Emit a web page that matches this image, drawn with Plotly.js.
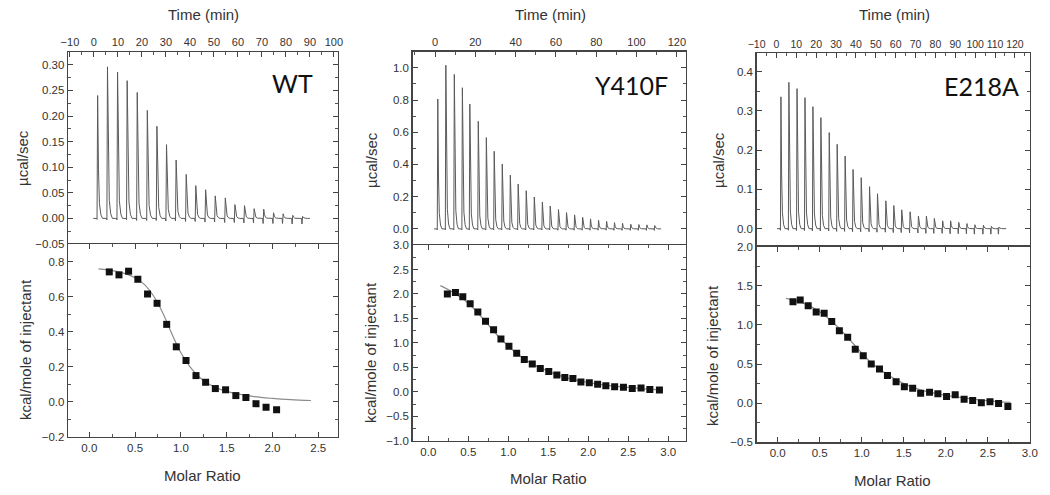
<!DOCTYPE html>
<html>
<head>
<meta charset="utf-8">
<script src="https://cdn.plot.ly/plotly-3.0.1.min.js"></script>
<style>html,body{margin:0;padding:0;background:#fff;}#chart{width:1050px;height:495px;}</style>
</head>
<body>
<div id="chart"></div>
<script>
// ---------------- DATA ----------------
// WT raw thermogram: injection times (min), peak heights (µcal/sec), baseline dips
const wtTime = [1.3,5.4,9.6,13.6,17.8,22.0,26.0,30.0,34.0,38.2,42.2,46.3,50.3,54.5,58.5,62.5,66.5,70.5,74.6,78.6,82.6,86.7];
const wtPeak = [0.240,0.296,0.286,0.269,0.246,0.211,0.180,0.144,0.114,0.086,0.064,0.056,0.044,0.040,0.027,0.025,0.019,0.018,0.011,0.009,0.006,0.004];
const wtDip  = [0.002,0.003,0.003,0.003,0.004,0.004,0.004,0.005,0.005,0.006,0.006,0.007,0.007,0.008,0.008,0.009,0.009,0.010,0.010,0.010,0.011,0.011];
const wtRunStart = -0.3, wtRunEnd = 90.0;
// WT integrated heats
const wtRatio = [0.218,0.324,0.429,0.530,0.636,0.740,0.845,0.950,1.056,1.165,1.270,1.376,1.488,1.600,1.710,1.820,1.930,2.045];
const wtHeat  = [0.741,0.724,0.745,0.699,0.615,0.562,0.442,0.314,0.236,0.150,0.112,0.076,0.069,0.036,0.025,-0.010,-0.030,-0.044];
const wtFitX  = [0.10,0.20,0.30,0.40,0.50,0.60,0.70,0.80,0.90,1.00,1.10,1.20,1.30,1.40,1.50,1.60,1.80,2.00,2.20,2.42];
const wtFitY  = [0.758,0.752,0.744,0.730,0.708,0.670,0.605,0.510,0.390,0.280,0.200,0.142,0.103,0.077,0.060,0.047,0.030,0.020,0.013,0.008];

// Y410F raw thermogram
const yTime = [1.1,5.1,9.3,13.3,17.0,21.2,25.2,29.1,33.1,37.1,41.0,45.0,49.0,53.0,56.9,61.0,65.0,69.0,73.0,76.9,80.9,84.9,88.8,92.8,96.9,100.9,104.9,108.8];
const yPeak = [0.806,1.016,0.959,0.876,0.775,0.668,0.567,0.482,0.402,0.334,0.278,0.237,0.198,0.167,0.142,0.120,0.101,0.087,0.072,0.062,0.054,0.047,0.039,0.035,0.029,0.027,0.025,0.021];
const yDip  = [0.006,0.006,0.006,0.006,0.006,0.006,0.006,0.006,0.006,0.007,0.007,0.007,0.007,0.007,0.007,0.008,0.008,0.008,0.008,0.008,0.008,0.008,0.009,0.009,0.009,0.009,0.009,0.009];
const yRunStart = -0.5, yRunEnd = 112.2;
// Y410F integrated heats
const yRatio = [0.238,0.339,0.431,0.523,0.619,0.715,0.816,0.908,1.008,1.105,1.200,1.300,1.400,1.506,1.607,1.707,1.808,1.908,2.013,2.117,2.220,2.330,2.440,2.550,2.660,2.770,2.890];
const yHeat  = [2.00,2.03,1.94,1.80,1.63,1.44,1.27,1.08,0.93,0.79,0.66,0.57,0.476,0.414,0.345,0.29,0.27,0.20,0.186,0.152,0.124,0.103,0.09,0.069,0.076,0.048,0.034];
const yFitX  = [0.15,0.30,0.50,0.70,0.90,1.10,1.30,1.50,1.70,1.90,2.10,2.30,2.50,2.70,2.93];
const yFitY  = [2.17,2.04,1.81,1.46,1.09,0.79,0.57,0.42,0.30,0.22,0.16,0.12,0.09,0.06,0.04];

// E218A raw thermogram
const eTime = [2.0,6.0,10.1,14.1,18.1,22.1,26.3,30.3,34.3,38.3,42.4,46.6,50.6,54.8,58.8,62.8,67.0,71.2,75.2,79.2,83.4,87.4,91.5,95.6,99.6,103.9,107.9,111.7];
const ePeak = [0.336,0.373,0.357,0.334,0.311,0.283,0.245,0.215,0.185,0.151,0.130,0.107,0.089,0.071,0.059,0.048,0.043,0.032,0.032,0.026,0.020,0.020,0.016,0.013,0.010,0.009,0.006,0.004];
const eDip  = [0.004,0.004,0.005,0.005,0.006,0.006,0.006,0.007,0.007,0.008,0.008,0.008,0.009,0.009,0.010,0.010,0.011,0.011,0.012,0.012,0.012,0.013,0.013,0.013,0.014,0.014,0.014,0.014];
const eRunStart = 0.3, eRunEnd = 115.6;
// E218A integrated heats
const eRatio = [0.182,0.268,0.363,0.458,0.553,0.643,0.734,0.833,0.923,1.018,1.113,1.211,1.306,1.409,1.507,1.606,1.701,1.807,1.906,2.009,2.112,2.218,2.320,2.423,2.526,2.628,2.739];
const eHeat  = [1.295,1.320,1.244,1.167,1.150,1.043,0.927,0.842,0.688,0.607,0.500,0.436,0.355,0.274,0.209,0.192,0.128,0.141,0.120,0.085,0.107,0.051,0.034,0.004,0.017,-0.004,-0.043];
const eFitX  = [0.10,0.30,0.50,0.70,0.90,1.10,1.30,1.50,1.70,1.90,2.10,2.30,2.50,2.77];
const eFitY  = [1.34,1.28,1.17,0.99,0.76,0.53,0.37,0.25,0.17,0.12,0.085,0.055,0.03,0.01];

const panelNames = ['WT','Y410F','E218A'];
const timeTitle = 'Time (min)';
const rawTitle = 'µcal/sec';
const heatTitle = 'kcal/mole of injectant';
const ratioTitle = 'Molar Ratio';

// ---------------- BUILD ----------------
const W = 1050, H = 495;
function thermo(times, peaks, dips, t0, t1){
  const x=[t0], y=[0];
  for (let i=0;i<times.length;i++){
    const t=times[i], h=peaks[i], d=dips[i];
    x.push(t-0.2, t, t+0.25, t+0.6, t+1.0, t+1.6, t+2.3);
    y.push(0, -d, h, 0.4*h, 0.12*h, 0.03*h, 0);
  }
  x.push(t1); y.push(0);
  return {x, y};
}
const rawColor = '#5a5a5a', fitColor = '#8c8c8c', markColor = '#111';
const datasets = [
  {raw: thermo(wtTime, wtPeak, wtDip, wtRunStart, wtRunEnd), rx: wtRatio, ry: wtHeat, fx: wtFitX, fy: wtFitY},
  {raw: thermo(yTime, yPeak, yDip, yRunStart, yRunEnd), rx: yRatio, ry: yHeat, fx: yFitX, fy: yFitY},
  {raw: thermo(eTime, ePeak, eDip, eRunStart, eRunEnd), rx: eRatio, ry: eHeat, fx: eFitX, fy: eFitY}
];
const traces = [];
datasets.forEach((d, i) => {
  const xt = 'x' + (2*i+1 === 1 ? '' : (2*i+1)), yt = 'y' + (2*i+1 === 1 ? '' : (2*i+1));
  const xb = 'x' + (2*i+2), yb = 'y' + (2*i+2);
  traces.push({x: d.raw.x, y: d.raw.y, xaxis: xt, yaxis: yt, type: 'scatter', mode: 'lines',
    line: {color: rawColor, width: 1}, showlegend: false, hoverinfo: 'skip'});
  traces.push({x: d.fx, y: d.fy, xaxis: xb, yaxis: yb, type: 'scatter', mode: 'lines',
    line: {color: fitColor, width: 1.2, shape: 'spline'}, showlegend: false});
  traces.push({x: d.rx, y: d.ry, xaxis: xb, yaxis: yb, type: 'scatter', mode: 'markers',
    marker: {symbol: 'square', size: 7, color: markColor}, showlegend: false});
});

// pixel geometry of the panels
const boxes = [
  {l: 68,    r: 337.5, t: 52,   m: 244,   b: 437},
  {l: 412.5, r: 685.5, t: 51.7, m: 245,   b: 440.7},
  {l: 756.5, r: 1030,  t: 53.3, m: 246.7, b: 442.3}
];
const axSpec = [
  {tx: [-10.8, 101.5], tdt: 10, tmin: 5, tfs: 11, ty: [-0.05, 0.325], tydt: 0.05, tymin: 0.025, tyfmt: '.2f',
   bx: [-0.2325, 2.71], bdt: 0.5, bmin: 0.25, by: [-0.2, 0.9], bydt: 0.2, bymin: 0.1},
  {tx: [-11.2, 124.3], tdt: 20, tmin: 10, tfs: 11, ty: [-0.1, 1.1], tydt: 0.2, tymin: 0.1, tyfmt: '.1f',
   bx: [-0.198, 3.216], bdt: 0.5, bmin: 0.25, by: [-1, 3.0001], bydt: 0.5, bymin: 0.25},
  {tx: [-10.05, 127.6], tdt: 10, tmin: 5, tfs: 10.5, ty: [-0.046, 0.447], tydt: 0.1, tymin: 0.05, tyfmt: '.1f',
   bx: [-0.252, 3.002], bdt: 0.5, bmin: 0.25, by: [-0.5, 2.0001], bydt: 0.5, bymin: 0.25}
];
function tickFont(sz){ return {family: 'Liberation Sans, Arial, sans-serif', size: sz || 11.5, color: '#333'}; }
function axis(extra, mdt){
  return Object.assign({
    showline: true, linecolor: '#444', linewidth: 1.3, mirror: 'ticks',
    ticks: 'inside', ticklen: 5, tickwidth: 1, tickcolor: '#444', tickangle: 0,
    showgrid: false, zeroline: false, tickfont: tickFont(), fixedrange: true,
    minor: {ticks: 'inside', ticklen: 3, tickwidth: 1, tickcolor: '#555', dtick: mdt, showgrid: false}
  }, extra);
}
const layout = {
  width: W, height: H, margin: {l: 0, r: 0, t: 0, b: 0},
  paper_bgcolor: '#fff', plot_bgcolor: '#fff', showlegend: false,
  annotations: []
};
boxes.forEach((b, i) => {
  const s = axSpec[i];
  const nT = 2*i+1, nB = 2*i+2;
  const kxT = nT === 1 ? 'xaxis' : 'xaxis' + nT, kyT = nT === 1 ? 'yaxis' : 'yaxis' + nT;
  const kxB = 'xaxis' + nB, kyB = 'yaxis' + nB;
  const dom = [b.l / W, b.r / W];
  layout[kxT] = axis({domain: dom, range: s.tx, side: 'top', anchor: 'y' + (nT === 1 ? '' : nT),
    mirror: false, tickmode: 'linear', tick0: 0, dtick: s.tdt, tickfont: tickFont(s.tfs)}, s.tmin);
  layout[kyT] = axis({domain: [1 - b.m / H, 1 - b.t / H], range: s.ty, anchor: 'x' + (nT === 1 ? '' : nT),
    tickmode: 'linear', tick0: 0, dtick: s.tydt, tickformat: s.tyfmt}, s.tymin);
  layout[kxB] = axis({domain: dom, range: s.bx, side: 'bottom', anchor: 'y' + nB,
    tickmode: 'linear', tick0: 0, dtick: s.bdt, tickformat: '.1f'}, s.bmin);
  layout[kyB] = axis({domain: [1 - b.b / H, 1 - b.m / H], range: s.by, anchor: 'x' + nB,
    tickmode: 'linear', tick0: 0, dtick: s.bydt, tickformat: '.1f'}, s.bymin);
});
// titles & panel labels (pixel positions -> paper)
const titleFont = {family: 'Liberation Sans, Arial, sans-serif', size: 15, color: '#333'};
function ann(text, px, py, font, rot){
  layout.annotations.push({text: text, x: px / W, y: 1 - py / H, xref: 'paper', yref: 'paper',
    xanchor: 'center', yanchor: 'middle', showarrow: false, font: font, textangle: rot || 0});
}
const titlePos = [
  {time: [203, 15], raw: [22, 158], heat: [25, 350], ratio: [202, 475], lab: [292.5, 83.5]},
  {time: [550, 15], raw: [371, 160], heat: [370, 353], ratio: [548, 478], lab: [631.7, 85]},
  {time: [894, 15], raw: [718, 160], heat: [712, 356], ratio: [892, 480], lab: [981.7, 85.5]}
];
titlePos.forEach((p, i) => {
  ann(timeTitle, p.time[0], p.time[1], titleFont);
  ann(rawTitle, p.raw[0], p.raw[1], titleFont, -90);
  ann(heatTitle, p.heat[0], p.heat[1], titleFont, -90);
  ann(ratioTitle, p.ratio[0], p.ratio[1], titleFont);
  ann(panelNames[i], p.lab[0], p.lab[1], {family: 'Lato, Open Sans, sans-serif', size: 25, color: '#111'});
});
Plotly.newPlot('chart', traces, layout, {displayModeBar: false, staticPlot: true});
</script>
</body>
</html>
